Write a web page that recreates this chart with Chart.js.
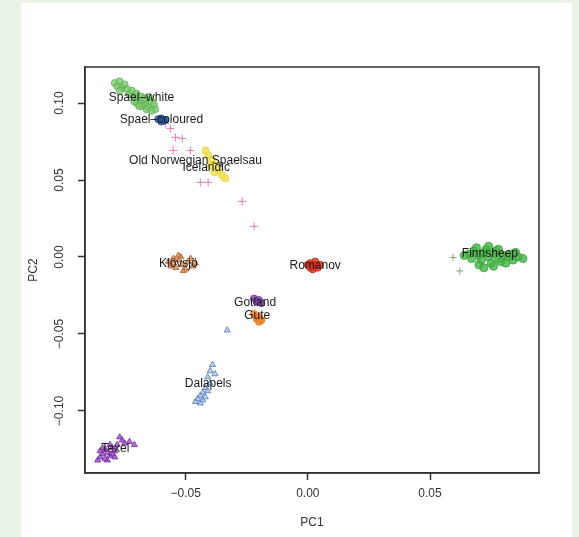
<!DOCTYPE html>
<html>
<head>
<meta charset="utf-8">
<script src="https://cdn.jsdelivr.net/npm/chart.js@4.4.1/dist/chart.umd.min.js"></script>
<style>
  body { margin: 0; background: #eaf4e6; width: 579px; height: 537px; overflow: hidden; }
  #panel { position: absolute; left: 21px; top: 3px; width: 551px; height: 534px; background: #fff; }
</style>
</head>
<body>
<div id="panel"><canvas id="pca" width="551" height="534"></canvas></div>
<script>
// tick values
const xTicks = [-0.05, 0, 0.05];
const yTicks = [-0.10, -0.05, 0, 0.05, 0.10];

// groups (PC1, PC2)
const spaelWhiteX = [-0.079, -0.078, -0.077, -0.076, -0.075, -0.077, -0.074, -0.073, -0.072, -0.071, -0.070, -0.069, -0.068, -0.067, -0.066, -0.065, -0.064, -0.063, -0.0625, -0.066, -0.068, -0.070, -0.069, -0.067, -0.065, -0.071, -0.064];
const spaelWhiteY = [0.113, 0.111, 0.114, 0.110, 0.112, 0.108, 0.109, 0.106, 0.108, 0.104, 0.106, 0.101, 0.104, 0.099, 0.102, 0.097, 0.101, 0.099, 0.096, 0.096, 0.098, 0.100, 0.098, 0.103, 0.104, 0.101, 0.095];
const spaelColX = [-0.0612, -0.060, -0.059, -0.0585, -0.060];
const spaelColY = [0.0895, 0.0900, 0.0885, 0.0890, 0.0880];
const onsX = [-0.0583, -0.0563, -0.0542, -0.0514, -0.0551, -0.0481, -0.0440, -0.0408, -0.0269, -0.0220];
const onsY = [0.0868, 0.0835, 0.0777, 0.0770, 0.0692, 0.0692, 0.0485, 0.0485, 0.0361, 0.0199];
const icelandicX = [-0.0419, -0.0408, -0.0391, -0.0379, -0.0367, -0.0350, -0.0338, -0.0400, -0.0383];
const icelandicY = [0.0692, 0.0660, 0.0628, 0.0595, 0.0563, 0.0530, 0.0511, 0.0595, 0.0550];
const klovsjoX = [-0.053, -0.057, -0.055, -0.053, -0.051, -0.049, -0.047, -0.054, -0.050, -0.052, -0.056, -0.048, -0.046, -0.051, -0.055];
const klovsjoY = [0.001, -0.003, -0.004, -0.002, -0.005, -0.003, -0.006, -0.007, -0.008, 0.000, -0.006, -0.001, -0.004, -0.009, -0.001];
const romanovX = [0.001, 0.002, 0.003, 0.004, 0.002, 0.000, 0.003, 0.005, 0.001];
const romanovY = [-0.004, -0.006, -0.005, -0.007, -0.008, -0.005, -0.003, -0.005, -0.007];
const gotlandX = [-0.022, -0.020, -0.019, -0.021];
const gotlandY = [-0.027, -0.028, -0.030, -0.029];
const guteX = [-0.022, -0.020, -0.019, -0.021, -0.020];
const guteY = [-0.037, -0.039, -0.041, -0.040, -0.042];
const dalapelsX = [-0.033, -0.039, -0.040, -0.041, -0.040, -0.042, -0.043, -0.044, -0.045, -0.043, -0.046, -0.041, -0.038, -0.044, -0.042];
const dalapelsY = [-0.0476, -0.070, -0.074, -0.078, -0.082, -0.085, -0.088, -0.090, -0.092, -0.093, -0.094, -0.087, -0.076, -0.095, -0.091];
const texelX = [-0.086, -0.085, -0.084, -0.083, -0.082, -0.081, -0.083, -0.080, -0.079, -0.078, -0.076, -0.075, -0.073, -0.071, -0.077, -0.085, -0.082, -0.080, -0.084, -0.079, -0.081];
const texelY = [-0.132, -0.130, -0.128, -0.131, -0.127, -0.129, -0.125, -0.124, -0.126, -0.122, -0.119, -0.121, -0.120, -0.122, -0.117, -0.126, -0.132, -0.128, -0.124, -0.130, -0.122];
const finnX = [0.066, 0.068, 0.070, 0.072, 0.074, 0.076, 0.078, 0.080, 0.082, 0.084, 0.086, 0.088, 0.071, 0.075, 0.079, 0.069, 0.073, 0.083, 0.077, 0.067, 0.070, 0.074, 0.078, 0.081, 0.085, 0.072, 0.076, 0.064];
const finnY = [0.002, 0.004, 0.001, 0.003, 0.000, 0.002, -0.001, 0.001, 0.000, -0.002, 0.000, -0.001, -0.002, -0.004, -0.003, 0.006, 0.005, 0.002, 0.004, -0.001, -0.005, 0.007, 0.005, -0.004, 0.003, -0.007, -0.006, 0.001];
const finnOutX = [0.0594, 0.0622];
const finnOutY = [-0.0003, -0.0091];

// breed labels and where they sit in PC space
const labelText = ["Spael\u2013white", "Spael\u2013coloured", "Old Norwegian Spaelsau", "Icelandic", "Klövsjö", "Romanov", "Finnsheep", "Gotland", "Gute", "Dalapels", "Texel"];
const labelX = [-0.0681, -0.0599, -0.0460, -0.0416, -0.0530, 0.0030, 0.0745, -0.0216, -0.0207, -0.0408, -0.0788];
const labelY = [0.1037, 0.0893, 0.0628, 0.0582, -0.0041, -0.0054, 0.0024, -0.0294, -0.0378, -0.0820, -0.1243];

function pts(xs, ys) {
  return xs.map(function (x, i) { return { x: x, y: ys[i] }; });
}

function group(xs, ys, style, fill, line, r) {
  return {
    data: pts(xs, ys),
    pointStyle: style,
    backgroundColor: fill,
    borderColor: line,
    borderWidth: 1,
    pointRadius: r || 3.5,
  };
}

const boxPlugin = {
  id: "box",
  beforeDraw: function (chart) {
    const c = chart.ctx;
    c.save();
    c.fillStyle = "#ffffff";
    c.fillRect(0, 0, chart.width, chart.height);
    c.restore();
  },
  afterDatasetsDraw: function (chart) {
    const c = chart.ctx;
    const a = chart.chartArea;
    const xs = chart.scales.x;
    const ys = chart.scales.y;
    c.save();
    c.font = "12px 'Liberation Sans', Arial, sans-serif";
    c.fillStyle = "#1a1a1a";
    c.textAlign = "center";
    c.textBaseline = "middle";
    labelText.forEach(function (t, i) {
      c.fillText(t, xs.getPixelForValue(labelX[i]), ys.getPixelForValue(labelY[i]));
    });
    c.strokeStyle = "#333";
    c.lineWidth = 1.5;
    c.strokeRect(a.left, a.top, a.right - a.left, a.bottom - a.top);
    c.restore();
  },
};

const tickFmt = function (v) {
  const s = Math.abs(v).toFixed(2);
  return v < 0 ? "\u2212" + s : s;
};

new Chart(document.getElementById("pca"), {
  type: "scatter",
  data: {
    datasets: [
      group(spaelWhiteX, spaelWhiteY, "circle", "rgba(120,200,105,0.75)", "rgba(90,175,80,0.8)"),
      group(spaelColX, spaelColY, "circle", "rgba(40,85,160,0.8)", "rgba(30,70,140,0.9)"),
      group(onsX, onsY, "cross", "rgba(225,110,170,0.9)", "rgba(225,110,170,0.9)", 4),
      group(icelandicX, icelandicY, "circle", "rgba(240,225,70,0.8)", "rgba(230,210,50,0.9)"),
      group(klovsjoX, klovsjoY, "triangle", "rgba(215,130,70,0.7)", "rgba(185,100,50,0.9)"),
      group(romanovX, romanovY, "circle", "rgba(220,50,30,0.8)", "rgba(200,40,20,0.9)"),
      group(gotlandX, gotlandY, "circle", "rgba(125,65,165,0.8)", "rgba(110,55,150,0.9)"),
      group(guteX, guteY, "circle", "rgba(240,130,40,0.85)", "rgba(230,120,30,0.9)"),
      group(dalapelsX, dalapelsY, "triangle", "rgba(130,165,215,0.5)", "rgba(90,130,195,0.9)"),
      group(texelX, texelY, "triangle", "rgba(140,60,180,0.7)", "rgba(125,50,165,0.9)"),
      group(finnX, finnY, "circle", "rgba(70,180,70,0.8)", "rgba(55,165,55,0.9)", 4),
      group(finnOutX, finnOutY, "cross", "rgba(120,150,110,0.9)", "rgba(120,150,110,0.9)"),
    ],
  },
  options: {
    responsive: false,
    animation: false,
    layout: { padding: { top: 64, right: 33, left: 0, bottom: 0 } },
    plugins: { legend: { display: false }, tooltip: { enabled: false } },
    scales: {
      x: {
        type: "linear",
        min: -0.0912,
        max: 0.0946,
        afterBuildTicks: function (s) { s.ticks = xTicks.map(function (v) { return { value: v }; }); },
        afterFit: function (s) { s.height = 64; },
        grid: { drawOnChartArea: false, drawTicks: true, tickLength: 7, tickColor: "#333", tickWidth: 1.5 },
        border: { color: "#333", width: 1.5 },
        ticks: { callback: tickFmt, color: "#333", padding: 6, font: { family: "'Liberation Sans', Arial, sans-serif", size: 12 } },
        title: { display: true, text: "PC1", color: "#333", padding: { top: 0, bottom: 7 }, font: { family: "'Liberation Sans', Arial, sans-serif", size: 12 } },
      },
      y: {
        type: "linear",
        min: -0.1403,
        max: 0.1234,
        afterBuildTicks: function (s) { s.ticks = yTicks.map(function (v) { return { value: v }; }); },
        afterFit: function (s) { s.width = 64; },
        grid: { drawOnChartArea: false, drawTicks: true, tickLength: 7, tickColor: "#333", tickWidth: 1.5 },
        border: { color: "#333", width: 1.5 },
        ticks: { callback: tickFmt, color: "#333", padding: 3, minRotation: 90, maxRotation: 90, crossAlign: "center", font: { family: "'Liberation Sans', Arial, sans-serif", size: 12 } },
        title: { display: true, text: "PC2", color: "#333", padding: { top: 5, bottom: 0 }, font: { family: "'Liberation Sans', Arial, sans-serif", size: 12 } },
      },
    },
  },
  plugins: [boxPlugin],
});
</script>
</body>
</html>
